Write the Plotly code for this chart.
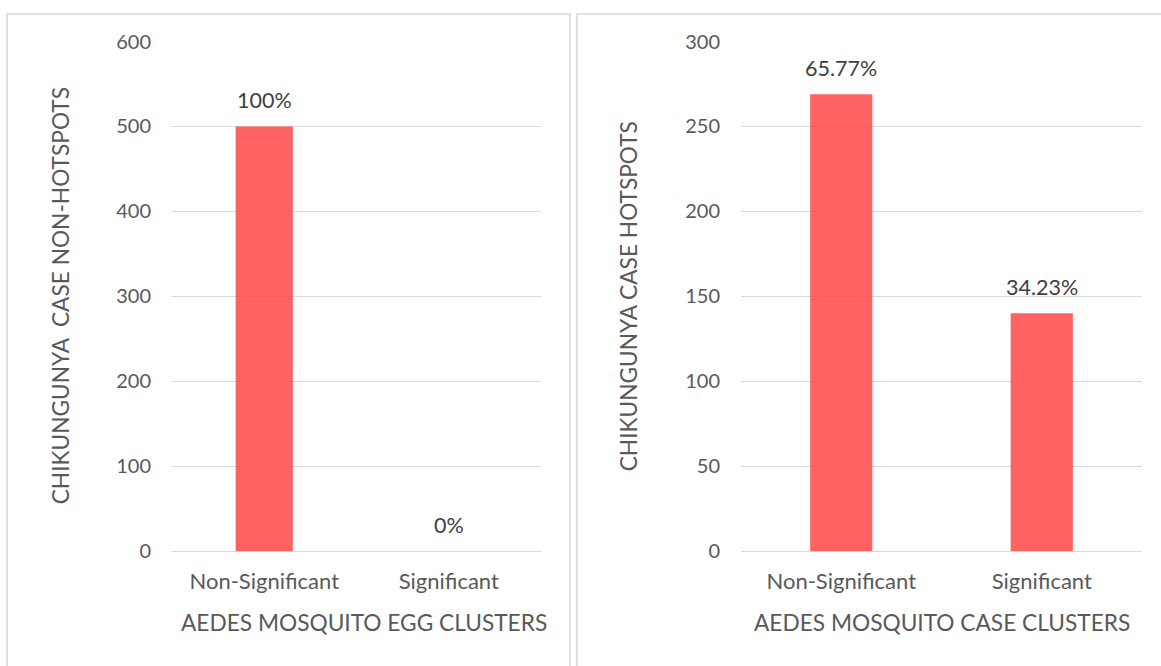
import plotly.graph_objects as go

categories = ["Non-Significant", "Significant"]
left_values = [500, 0]
left_labels = ["100%", "0%"]
right_values = [269, 140]
right_labels = ["65.77%", "34.23%"]

left_ticks = [0, 100, 200, 300, 400, 500, 600]
right_ticks = [0, 50, 100, 150, 200, 250, 300]

left_xtitle = "AEDES MOSQUITO EGG CLUSTERS"
left_ytitle = "CHIKUNGUNYA  CASE NON-HOTSPOTS"
right_xtitle = "AEDES MOSQUITO CASE CLUSTERS"
right_ytitle = "CHIKUNGUNYA CASE HOTSPOTS"

W, H = 1161, 666
FONT = "Lato"
TXT = "#595959"
GRID = "#D9D9D9"
BAR = "rgba(255,64,64,0.82)"

fig = go.Figure()
fig.add_trace(go.Bar(x=categories, y=left_values, marker=dict(color=BAR, line=dict(width=0)),
                     xaxis="x", yaxis="y", showlegend=False, hoverinfo="skip"))
fig.add_trace(go.Bar(x=categories, y=right_values, marker=dict(color=BAR, line=dict(width=0)),
                     xaxis="x2", yaxis="y2", showlegend=False, hoverinfo="skip"))

# vertical placement compensates for how the page is photographed
VS, VO = 0.9647, 12.45

def px_x(p):
    return p / W

def px_y(p):
    return 1 - ((p - VO) / VS) / H

ydom = [px_y(551), px_y(41)]
xdom1 = [px_x(172), px_x(541)]
xdom2 = [px_x(741), px_x(1142)]

axis_common = dict(showgrid=False, zeroline=False, showline=True, linecolor=GRID, linewidth=1,
                   ticks="", tickfont=dict(family=FONT, size=22, color=TXT), ticklabelstandoff=10,
                   fixedrange=True)
yaxis_common = dict(showgrid=True, gridcolor=GRID, gridwidth=1, zeroline=False, showline=False,
                    ticks="", tickfont=dict(family=FONT, size=20, color=TXT), ticklabelstandoff=20,
                    fixedrange=True)

fig.update_layout(
    width=W, height=H,
    margin=dict(l=0, r=0, t=0, b=0),
    paper_bgcolor="white", plot_bgcolor="white",
    bargap=0.69,
    xaxis=dict(domain=xdom1, anchor="y", categoryorder="array", categoryarray=categories, **axis_common),
    yaxis=dict(domain=ydom, anchor="x", range=[0, 600], tickvals=left_ticks, **yaxis_common),
    xaxis2=dict(domain=xdom2, anchor="y2", categoryorder="array", categoryarray=categories, **axis_common),
    yaxis2=dict(domain=ydom, anchor="x2", range=[0, 300], tickvals=right_ticks, **yaxis_common),
)

annotations = []
for c, v, t in zip(categories, left_values, left_labels):
    annotations.append(dict(x=c, y=v, xref="x", yref="y", text=t, showarrow=False, yshift=26,
                            font=dict(family=FONT, size=21.5, color="#404040")))
for c, v, t in zip(categories, right_values, right_labels):
    annotations.append(dict(x=c, y=v, xref="x2", yref="y2", text=t, showarrow=False, yshift=26,
                            font=dict(family=FONT, size=21.5, color="#404040")))

title_font = dict(family=FONT, size=22.7, color=TXT)
annotations += [
    dict(x=px_x(364), y=px_y(622), xref="paper", yref="paper", text=left_xtitle, showarrow=False,
         font=title_font, xanchor="center", yanchor="middle"),
    dict(x=px_x(942), y=px_y(622), xref="paper", yref="paper", text=right_xtitle, showarrow=False,
         font=title_font, xanchor="center", yanchor="middle"),
    dict(x=px_x(60), y=px_y(296), xref="paper", yref="paper", text=left_ytitle, showarrow=False,
         font=title_font, textangle=-90, xanchor="center", yanchor="middle"),
    dict(x=px_x(628), y=px_y(296), xref="paper", yref="paper", text=right_ytitle, showarrow=False,
         font=title_font, textangle=-90, xanchor="center", yanchor="middle"),
]
fig.update_layout(annotations=annotations)

border = dict(color="#D9D9D9", width=1.5)
top_edge = 1 - 1.0 / H
fig.update_layout(shapes=[
    dict(type="rect", xref="paper", yref="paper", x0=px_x(7), x1=px_x(570), y0=-0.1, y1=top_edge,
         line=border, fillcolor="rgba(0,0,0,0)", layer="below"),
    dict(type="rect", xref="paper", yref="paper", x0=px_x(577), x1=px_x(1200), y0=-0.1, y1=top_edge,
         line=border, fillcolor="rgba(0,0,0,0)", layer="below"),
])

post = (
    "document.documentElement.style.margin='0';document.documentElement.style.padding='0';"
    "document.documentElement.style.overflow='hidden';"
    "document.body.style.margin='0';document.body.style.padding='0';document.body.style.overflow='hidden';"
    "var d=document.getElementById('{plot_id}');d.style.position='absolute';d.style.top='0';d.style.left='0';"
)
fig.write_html("out.html", config={"displayModeBar": False}, post_script=post)
